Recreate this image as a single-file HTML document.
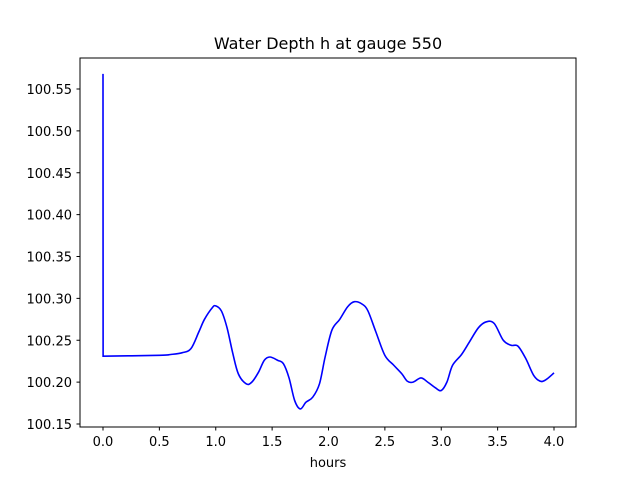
<!DOCTYPE html>
<html><head><meta charset="utf-8"><style>
body{margin:0;background:#fff;}
svg text{font-family:"DejaVu Sans","Liberation Sans",sans-serif;}
</style></head><body>
<svg id="chart" width="640" height="480" xmlns="http://www.w3.org/2000/svg">
<rect width="640" height="480" fill="#fff"/>
<text x="328" y="49" font-size="16" text-anchor="middle">Water Depth h at gauge 550</text>
<g id="axes"></g>
<rect x="80" y="58" width="496" height="369" fill="none" stroke="#000" stroke-width="1"/>
<text x="328" y="467" font-size="13" text-anchor="middle">hours</text>
</svg>
<script>
const hours=[0,0.001,0.5,0.6,0.7,0.78,0.85,0.9,0.97,1.0,1.05,1.1,1.15,1.2,1.27,1.32,1.38,1.43,1.48,1.55,1.6,1.65,1.7,1.75,1.8,1.86,1.92,1.97,2.03,2.1,2.17,2.23,2.3,2.35,2.42,2.5,2.58,2.65,2.7,2.75,2.82,2.88,2.95,3.0,3.05,3.1,3.18,3.25,3.33,3.4,3.47,3.55,3.62,3.68,3.75,3.82,3.88,3.93,4.0];
const depth=[100.568,100.231,100.232,100.233,100.235,100.24,100.26,100.275,100.289,100.291,100.285,100.265,100.235,100.21,100.198,100.2,100.212,100.226,100.23,100.226,100.222,100.205,100.178,100.168,100.176,100.182,100.198,100.23,100.262,100.275,100.29,100.296,100.293,100.285,100.26,100.232,100.22,100.21,100.201,100.2,100.205,100.2,100.193,100.19,100.2,100.22,100.233,100.248,100.265,100.272,100.27,100.25,100.244,100.243,100.228,100.208,100.201,100.203,100.211];
const xTicks=[0,0.5,1,1.5,2,2.5,3,3.5,4];
const yTicks=[100.15,100.2,100.25,100.3,100.35,100.4,100.45,100.5,100.55];
const NS="http://www.w3.org/2000/svg";
const sx=v=>103+(v-0)*(554-103)/4;
const sy=v=>424-(v-100.15)*(424-89)/0.4;
const g=document.getElementById('axes');
function mk(t,a){const e=document.createElementNS(NS,t);for(const k in a)e.setAttribute(k,a[k]);return e;}
xTicks.forEach(t=>{
 const l=mk('line',{x1:sx(t),x2:sx(t),y1:427,y2:430.5,stroke:'#000'});
 
 
 g.appendChild(l);
 const tx=mk('text',{x:sx(t),y:446,'font-size':13,'text-anchor':'middle'});
 
 
 tx.textContent=t.toFixed(1);g.appendChild(tx);
});
yTicks.forEach(t=>{
 const l=mk('line',{x1:76.5,x2:80,y1:sy(t),y2:sy(t),stroke:'#000'});
 
 
 g.appendChild(l);
 const tx=mk('text',{x:72,y:sy(t)+5,'font-size':13,'text-anchor':'end'});
 
 
 tx.textContent=t.toFixed(2);g.appendChild(tx);
});
const pts=hours.map((h,i)=>[sx(h),sy(depth[i])]);
let d='M'+pts[0][0]+','+pts[0][1]+' L'+pts[1][0]+','+pts[1][1];
for(let i=1;i<pts.length-1;i++){
 const p0=pts[Math.max(1,i-1)],p1=pts[i],p2=pts[i+1],p3=pts[Math.min(pts.length-1,i+2)];
 d+=' C'+(p1[0]+(p2[0]-p0[0])/6)+','+(p1[1]+(p2[1]-p0[1])/6)+' '+(p2[0]-(p3[0]-p1[0])/6)+','+(p2[1]-(p3[1]-p1[1])/6)+' '+p2[0]+','+p2[1];
}
const path=mk('path',{d:d,fill:'none',stroke:'#0000ff','stroke-width':1.6});


g.appendChild(path);
</script>
</body></html>
